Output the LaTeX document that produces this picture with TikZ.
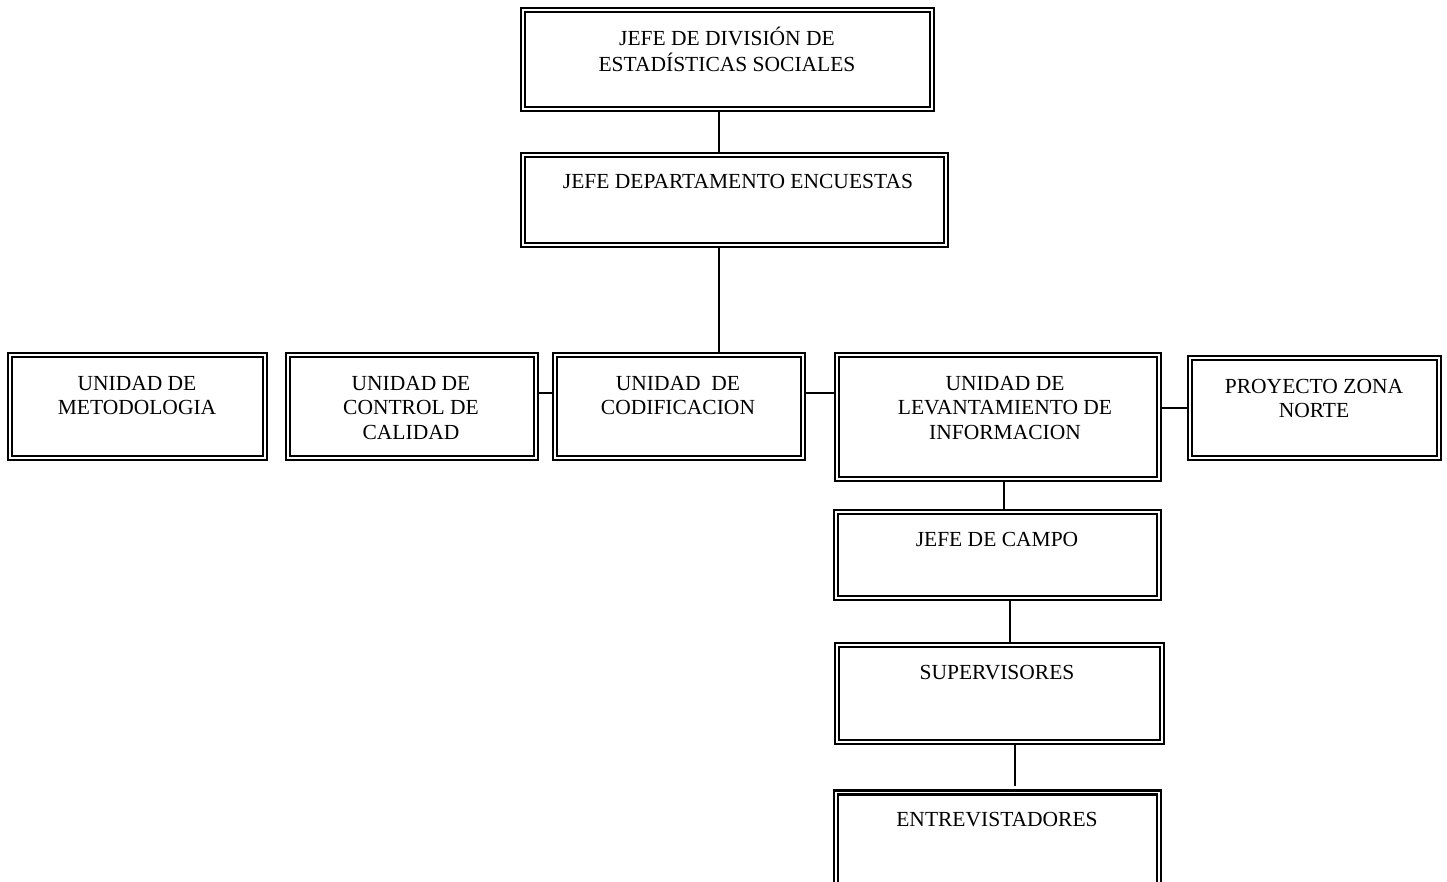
\documentclass[tikz,border=0pt]{standalone}
\usepackage{fontspec}
\setmainfont{Liberation Serif}
\tikzset{
  ubox/.style={draw, line width=2.2pt, double, double distance=1.8pt, inner sep=0pt},
  lbl/.style={inner sep=0pt, anchor=base, font=\fontsize{21.5}{24.5}\selectfont},
  conn/.style={line width=2pt}
}
\newcommand{\ml}[1]{\begin{tabular}[t]{@{}c@{}}#1\end{tabular}}
\begin{document}
\begin{tikzpicture}[x=1pt,y=-1pt]
\useasboundingbox (0,0) rectangle (1447,882);
% boxes
\node[ubox, minimum width=409pt, minimum height=99pt] (b1) at (727.5,59.5) {};
\node[ubox, minimum width=423pt, minimum height=90pt] (b2) at (734.5,200) {};
\node[ubox, minimum width=255pt, minimum height=103pt] (m) at (137.5,406.5) {};
\node[ubox, minimum width=248pt, minimum height=103pt] (c) at (412,406.5) {};
\node[ubox, minimum width=248pt, minimum height=103pt] (cod) at (679,406.5) {};
\node[ubox, minimum width=322pt, minimum height=124pt] (lev) at (998,417) {};
\node[ubox, minimum width=249pt, minimum height=100pt] (p) at (1314.5,408) {};
\node[ubox, minimum width=323pt, minimum height=86pt] (jc) at (997.5,555) {};
\node[ubox, minimum width=325pt, minimum height=97pt] (sup) at (999.5,693.5) {};
\node[ubox, minimum width=323pt, minimum height=110pt] (ent) at (997.5,847.5) {};
% texts
\node[lbl] (tb1) at (727,45.5) {\ml{JEFE DE DIVISIÓN DE\\ESTADÍSTICAS SOCIALES}};
\node[lbl] (tb2) at (738,189) {JEFE DEPARTAMENTO ENCUESTAS};
\node[lbl] (tm) at (137,390) {\ml{UNIDAD DE\\METODOLOGIA}};
\node[lbl] (tc) at (411,390) {\ml{UNIDAD DE\\CONTROL DE\\CALIDAD}};
\node[lbl] (tcod) at (678,390) {\ml{UNIDAD\ \ DE\\CODIFICACION}};
\node[lbl] (tlev) at (1005,390) {\ml{UNIDAD DE\\LEVANTAMIENTO DE\\INFORMACION}};
\node[lbl] (tp) at (1314,393) {\ml{PROYECTO ZONA\\NORTE}};
\node[lbl] (tjc) at (997,546) {JEFE DE CAMPO};
\node[lbl] (tsup) at (997,679) {SUPERVISORES};
\node[lbl] (tent) at (997,826) {ENTREVISTADORES};
% connector guide coordinates
\coordinate (x1) at (719,0);
\coordinate (x2) at (1004,0);
\coordinate (x3) at (1010,0);
\coordinate (x4) at (1015,0);
\coordinate (y1) at (0,393);
\coordinate (y2) at (0,408);
\coordinate (e4) at (1015,786);
% connectors
\draw[conn] (b1.south -| x1) -- (b2.north -| x1);
\draw[conn] (b2.south -| x1) -- (cod.north -| x1);
\draw[conn] (c.east |- y1) -- (cod.west |- y1);
\draw[conn] (cod.east |- y1) -- (lev.west |- y1);
\draw[conn] (lev.east |- y2) -- (p.west |- y2);
\draw[conn] (lev.south -| x2) -- (jc.north -| x2);
\draw[conn] (jc.south -| x3) -- (sup.north -| x3);
\draw[conn] (sup.south -| x4) -- (e4);
\end{tikzpicture}
\end{document}
